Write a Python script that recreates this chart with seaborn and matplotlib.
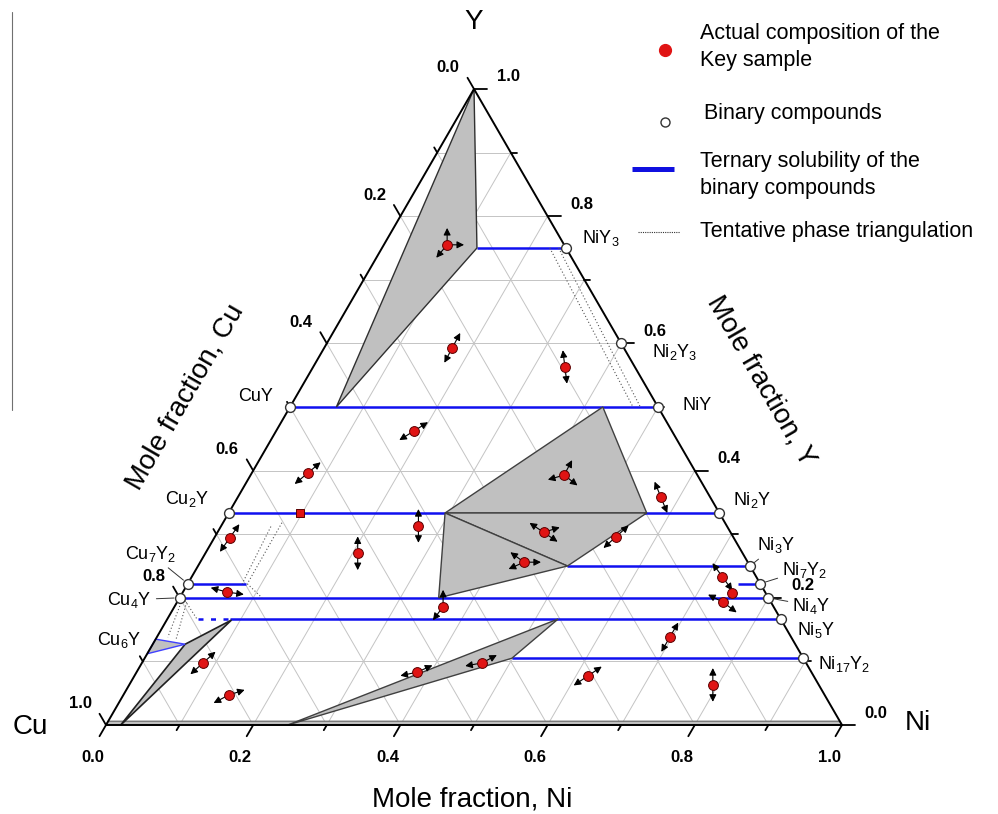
import numpy as np
import pandas as pd
import matplotlib
matplotlib.use("Agg")
import matplotlib.pyplot as plt
from matplotlib.lines import Line2D
from matplotlib.patches import Polygon
import seaborn as sns

sns.set_theme(style="white")
plt.rcParams["font.family"] = ["Liberation Sans", "DejaVu Sans"]
plt.rcParams["text.color"] = "black"
plt.rcParams["mathtext.fontset"] = "custom"
plt.rcParams["mathtext.rm"] = "Liberation Sans"
plt.rcParams["mathtext.it"] = "Liberation Sans:italic"
plt.rcParams["mathtext.bf"] = "Liberation Sans:bold"

# ------------------------------------------------------------------ data
# key samples (mole fraction Ni, mole fraction Y)
sample_ni = [0.086, 0.174, 0.342, 0.187, 0.076, 0.426, 0.575, 0.268, 0.443, 0.545,
             0.021, 0.207, 0.440, 0.721, 0.060, 0.747, 0.742, 0.365, 0.697, 0.083,
             0.381, 0.462, 0.616, 0.793, 0.143]
sample_y = [0.755, 0.593, 0.563, 0.462, 0.396, 0.393, 0.358, 0.313, 0.303, 0.296,
            0.294, 0.270, 0.256, 0.233, 0.209, 0.2075, 0.193, 0.186, 0.138, 0.0975,
            0.083, 0.0975, 0.077, 0.063, 0.047]
# tie-line directions observed for each sample (degrees)
sample_tie_dirs = [[90, 0, -130], [62, 242], [97, -83], [32, 212], [40, 220],
                   [62, 196, -38], [112, -68], [90, -90], [146, 17, -34], [42, 222],
                   [55, 235], [90, -90], [144, 204, 0], [126, -54], [165, -8],
                   [], [153, -37], [90, 233], [60, 240], [42, 222],
                   [192, 24], [190, 28], [34, 214], [90, -90], [18, 208]]
square_ni = [0.097]
square_y = [1 / 3]

# binary compounds
compound_names = ["CuY", "Cu$_2$Y", "Cu$_7$Y$_2$", "Cu$_4$Y",
                  "NiY$_3$", "Ni$_2$Y$_3$", "NiY", "Ni$_2$Y", "Ni$_3$Y",
                  "Ni$_7$Y$_2$", "Ni$_4$Y", "Ni$_5$Y", "Ni$_{17}$Y$_2$"]
compound_y = [1 / 2, 1 / 3, 2 / 9, 1 / 5,
              3 / 4, 3 / 5, 1 / 2, 1 / 3, 1 / 4, 2 / 9, 1 / 5, 1 / 6, 2 / 19]
compound_ni = [0, 0, 0, 0] + [1 - v for v in compound_y[4:]]

# ternary solubility ranges (constant Y, Ni from..to)
solubility_y = [0.75, 0.5, 1 / 3, 0.25, 2 / 9, 2 / 9, 0.2, 1 / 6, 2 / 19]
solubility_ni0 = [0.129, 0.0, 0.0, 0.502, 0.0, 0.748, 0.0, 0.085, 0.499]
solubility_ni1 = [0.25, 0.5, 2 / 3, 0.75, 0.079, 7 / 9, 0.8, 5 / 6, 17 / 19]
uncertain_ni = [0.042, 0.085]
uncertain_y = [1 / 6, 1 / 6]

# phase-field polygons (Ni, Y vertices)
region_top_ni, region_top_y = [0.0, 0.129, 0.063], [1.0, 0.75, 0.5]
region_c1_ni, region_c1_y = [0.294, 0.425, 0.568], [1 / 3, 0.5, 1 / 3]
region_c2_ni, region_c2_y = [0.294, 0.568, 0.502], [1 / 3, 1 / 3, 0.25]
region_c3_ni, region_c3_y = [0.294, 0.502, 0.352], [1 / 3, 0.25, 0.2]
region_cu_ni, region_cu_y = [0.02, 0.044, 0.088], [0.0, 0.127, 0.165]
region_mid_ni, region_mid_y = [0.247, 0.531, 0.499], [0.0, 1 / 6, 0.105]
region_cu6y_ni, region_cu6y_y = [0.0, 0.0, 0.044], [0.135, 0.112, 0.127]
band_ni, band_y = [0.0, 1.0, 0.994, 0.0], [0.0, 0.0, 0.006, 0.006]

# tentative triangulation (Ni list, Y list)
tentative = [([0.228, 0.466], [0.75, 0.5]),
             ([0.240, 0.476], [0.75, 0.5]),
             ([0.080, 0.081], [0.318, 0.222]),
             ([0.068, 0.074], [0.312, 0.222]),
             ([0.081, 0.112], [0.222, 0.2]),
             ([0.005, 0.015], [0.197, 0.138]),
             ([0.013, 0.028], [0.193, 0.134]),
             ([0.005, 0.042], [0.2, 0.165])]

tick_values = [0.0, 0.2, 0.4, 0.6, 0.8, 1.0]
tick_labels = ["0.0", "0.2", "0.4", "0.6", "0.8", "1.0"]

# ------------------------------------------------------------------ helpers
S3 = np.sqrt(3) / 2


def tern(ni, y):
    ni = np.asarray(ni, float)
    y = np.asarray(y, float)
    return ni + y / 2, y * S3


W, H = 998, 814
fig = plt.figure(figsize=(W / 100, H / 100), dpi=100)
ax = fig.add_axes([0, 0, 1, 1])
ax.set_xlim(-106 / 736, (W - 106) / 736)
ax.set_ylim((725 - H) / 734.4, 725 / 734.4)
ax.axis("off")

grid_c = "#c4c4c4"
for g in np.arange(1, 10) / 10:
    ax.plot(*tern([0, 1 - g], [g, g]), color=grid_c, lw=0.7, zorder=1)
    ax.plot(*tern([g, g], [0, 1 - g]), color=grid_c, lw=0.7, zorder=1)
    ax.plot(*tern([1 - g, 0], [0, 1 - g]), color=grid_c, lw=0.7, zorder=1)

# solubility lines
blue = "#1010f0"
for yv, a, b in zip(solubility_y, solubility_ni0, solubility_ni1):
    ax.plot(*tern([a, b], [yv, yv]), color=blue, lw=1.8, zorder=2,
            solid_capstyle="butt")
ax.plot(*tern(uncertain_ni, uncertain_y), color=blue, lw=1.8, ls=(0, (2, 3)), zorder=2)

# tentative triangulation
for tn, ty in tentative:
    ax.plot(*tern(tn, ty), color="#555555", lw=0.8, ls=(0, (1, 2)), zorder=2)


# phase regions
def add_region(ni, y, ec="#303030", lw=1.0, z=3):
    xs, ys = tern(ni, y)
    ax.add_patch(Polygon(np.column_stack([xs, ys]), closed=True, fc="#c0c0c0",
                         ec=ec, lw=lw, zorder=z))


add_region(band_ni, band_y, ec="#606060", lw=0.8)
add_region(region_top_ni, region_top_y)
add_region(region_c1_ni, region_c1_y, ec="#404040")
add_region(region_c2_ni, region_c2_y, ec="#404040")
add_region(region_c3_ni, region_c3_y, ec="#404040")
add_region(region_cu_ni, region_cu_y, ec="#202020", lw=1.2)
add_region(region_mid_ni, region_mid_y, ec="#404040")
add_region(region_cu6y_ni, region_cu6y_y, ec="#4040ff", lw=1.0)

# triangle frame
fx, fy = tern([0, 1, 0, 0], [0, 0, 1, 0])
ax.plot(fx, fy, color="black", lw=1.4, zorder=5, solid_joinstyle="miter")

# ticks
maj, mnr = 13 / 736, 6 / 736
dirs = {"b": (-0.5, -S3), "l": (-0.5, S3), "r": (1.0, 0.0)}
for k in range(11):
    v = k / 10
    L = maj if k % 2 == 0 else mnr
    pts = {"b": tern(v, 0), "l": tern(0, 1 - v), "r": tern(1 - v, v)}
    for key, (px, py) in pts.items():
        dx, dy = dirs[key]
        ax.plot([px, px + dx * L], [py, py + dy * L], color="black", lw=1.3, zorder=5)

tick_kw = dict(fontsize=12, fontweight="bold", ha="center", va="center",
               textcoords="offset pixels", annotation_clip=False)
for v, lab in zip(tick_values, tick_labels):
    ax.annotate(lab, tern(v, 0), xytext=(-13, -33), **tick_kw)
    ax.annotate(lab, tern(0, 1 - v), xytext=(-26, 21), **tick_kw)
    ax.annotate(lab, tern(1 - v, v), xytext=(34, 12), **tick_kw)

# compounds
comp_df = pd.DataFrame({"x": tern(compound_ni, compound_y)[0],
                        "y": tern(compound_ni, compound_y)[1]})
sns.scatterplot(data=comp_df, x="x", y="y", ax=ax, s=50, facecolor="white",
                edgecolor="#333333", linewidth=1.0, zorder=6, legend=False)

label_offsets = [(-34, 10, "center", False), (-42, 14, "center", False),
                 (-37, 30, "center", True), (-50, -2, "center", True),
                 (16, 10, "left", False), (31, -9, "left", False),
                 (24, 1, "left", False), (14, 13, "left", False),
                 (7, 21, "left", True), (22, 14, "left", True),
                 (24, -8, "left", True), (16, -11, "left", False),
                 (15, -6, "left", False)]
for name, cn, cy, (dx, dy, ha, lead) in zip(compound_names, compound_ni, compound_y,
                                            label_offsets):
    kw = {}
    if lead:
        kw["arrowprops"] = dict(arrowstyle="-", color="#333333", lw=0.7,
                                shrinkA=1, shrinkB=4)
    ax.annotate(name, tern(cn, cy), xytext=(dx, dy), textcoords="offset pixels",
                ha=ha, va="center", fontsize=13, zorder=7, **kw)
ax.annotate("Cu$_6$Y", tern(0, 1 / 7), xytext=(-39, -6), textcoords="offset pixels",
            ha="center", va="center", fontsize=13)

# samples with tie-line arrows
samp_x, samp_y = tern(sample_ni, sample_y)
arrow_len = 0.023
for x0, y0, dirs_ in zip(samp_x, samp_y, sample_tie_dirs):
    for a in dirs_:
        r = np.deg2rad(a)
        ax.annotate("", xy=(x0 + arrow_len * np.cos(r), y0 + arrow_len * np.sin(r)),
                    xytext=(x0, y0),
                    arrowprops=dict(arrowstyle="-|>,head_length=0.6,head_width=0.3",
                                    color="black", lw=0.8, shrinkA=0, shrinkB=0,
                                    mutation_scale=7), zorder=7)
samp_df = pd.DataFrame({"x": samp_x, "y": samp_y})
sns.scatterplot(data=samp_df, x="x", y="y", ax=ax, s=50, color="#e01414",
                edgecolor="#5a0000", linewidth=0.7, zorder=8, legend=False)
sq_x, sq_y = tern(square_ni, square_y)
ax.scatter(sq_x, sq_y, marker="s", s=34, color="#e01414", edgecolor="#5a0000",
           linewidth=0.7, zorder=8)

# vertex labels and axis titles
ax.annotate("Y", tern(0, 1), xytext=(0, 67), textcoords="offset pixels",
            ha="center", va="center", fontsize=20)
ax.annotate("Cu", tern(0, 0), xytext=(-76, -2), textcoords="offset pixels",
            ha="center", va="center", fontsize=20)
ax.annotate("Ni", tern(1, 0), xytext=(76, 2), textcoords="offset pixels",
            ha="center", va="center", fontsize=20)
ax.annotate("Mole fraction, Ni", tern(0.5, 0), xytext=(-2, -74),
            textcoords="offset pixels", ha="center", va="center", fontsize=20)
ax.annotate("Mole fraction, Cu", tern(0, 0.5), xytext=(-105, 10),
            textcoords="offset pixels", ha="center", va="center", fontsize=20,
            rotation=60, rotation_mode="anchor")
ax.annotate("Mole fraction, Y", tern(0.5, 0.5), xytext=(103, 26),
            textcoords="offset pixels", ha="center", va="center", fontsize=20,
            rotation=-60, rotation_mode="anchor")


# legend (drawn manually in figure pixels)
def fxy(px, py):
    return px / W, 1 - py / H


fig.add_artist(Line2D(*zip(fxy(665, 50)), marker="o", ms=8.5, color="#e01414",
                      mec="#e01414", ls="none", transform=fig.transFigure))
fig.add_artist(Line2D(*zip(fxy(665, 122)), marker="o", ms=6.5, mfc="white",
                      mec="#333333", mew=1.0, ls="none", transform=fig.transFigure))
fig.add_artist(Line2D(*zip(fxy(632, 169), fxy(674, 169)), color="#1010e0", lw=3.6,
                      transform=fig.transFigure, solid_capstyle="butt"))
fig.add_artist(Line2D(*zip(fxy(638, 232), fxy(680, 232)), color="#333333", lw=0.8,
                      ls=(0, (1, 1)), transform=fig.transFigure))
leg_kw = dict(fontsize=15.5, ha="left", va="center", linespacing=1.4)
fig.text(*fxy(700, 47), "Actual composition of the\nKey sample", **leg_kw)
fig.text(*fxy(704, 114), "Binary compounds", **leg_kw)
fig.text(*fxy(700, 175), "Ternary solubility of the\nbinary compounds", **leg_kw)
fig.text(*fxy(700, 232), "Tentative phase triangulation", **leg_kw)

fig.add_artist(Line2D(*zip(fxy(12, 12), fxy(12, 410)), color="#707070", lw=0.8,
                      transform=fig.transFigure))

fig.savefig("out.png", dpi=100)
